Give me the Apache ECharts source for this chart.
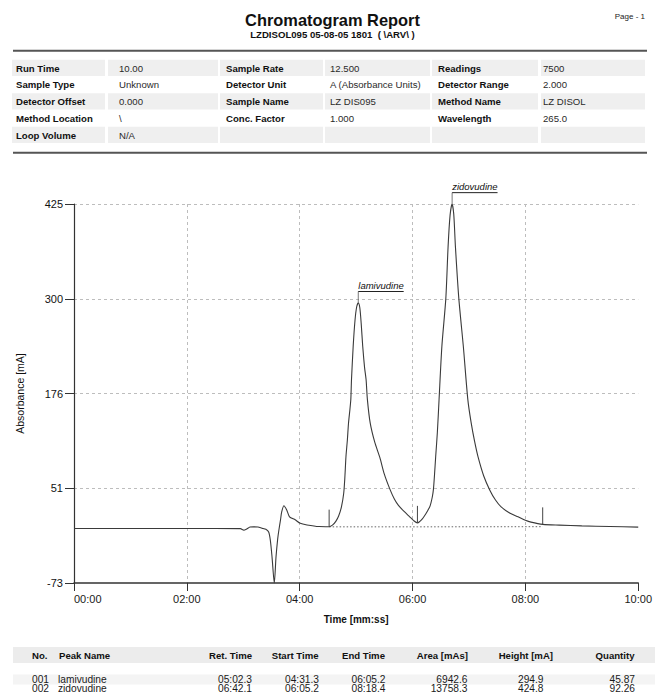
<!DOCTYPE html>
<html><head><meta charset="utf-8">
<script src="https://cdn.jsdelivr.net/npm/echarts@6/dist/echarts.min.js"></script>
<style>html,body{margin:0;padding:0;background:#fff}#c{width:655px;height:694px}</style>
</head><body><div id="c"></div>
<script>
// ---------- report texts ----------
const reportTitle = 'Chromatogram Report';
const reportSubtitle = 'LZDISOL095 05-08-05 1801  ( \\ARV\\ )';
const pageLabel = 'Page - 1';

// ---------- info table (6 columns, 5 rows) ----------
const infoLabels1 = ['Run Time', 'Sample Type', 'Detector Offset', 'Method Location', 'Loop Volume'];
const infoValues1 = ['10.00', 'Unknown', '0.000', '\\', 'N/A'];
const infoLabels2 = ['Sample Rate', 'Detector Unit', 'Sample Name', 'Conc. Factor', ''];
const infoValues2 = ['12.500', 'A (Absorbance Units)', 'LZ DIS095', '1.000', ''];
const infoLabels3 = ['Readings', 'Detector Range', 'Method Name', 'Wavelength', ''];
const infoValues3 = ['7500', '2.000', 'LZ DISOL', '265.0', ''];

// ---------- chromatogram signal (time in minutes, absorbance in mA) ----------
const timeMin = [
  0.00, 0.50, 1.00, 1.50, 2.00, 2.50, 2.95, 3.01, 3.06, 3.12, 3.18, 3.26, 3.33, 3.40,
  3.45, 3.48, 3.51, 3.55, 3.58, 3.61, 3.63, 3.66, 3.68, 3.72, 3.77, 3.82, 3.92, 4.01,
  4.13, 4.34, 4.52, 4.58, 4.64, 4.69, 4.74, 4.78, 4.80, 4.82, 4.845, 4.865, 4.89, 4.906,
  4.918, 4.948, 4.98, 5.01, 5.038, 5.065, 5.09, 5.117, 5.15, 5.177, 5.20, 5.25, 5.33,
  5.42, 5.50, 5.60, 5.68, 5.75, 5.85, 5.95, 6.02, 6.087, 6.13, 6.17, 6.21, 6.26, 6.31,
  6.35, 6.37, 6.39, 6.41, 6.44, 6.47, 6.52, 6.59, 6.63, 6.665, 6.70, 6.73, 6.76, 6.82,
  6.90, 6.98, 7.04, 7.10, 7.16, 7.26, 7.37, 7.47, 7.57, 7.72, 7.87, 8.00, 8.10, 8.31,
  8.60, 9.00, 9.50, 10.00
];
const absorbance = [
  -1.4, -1.4, -1.4, -1.4, -1.4, -1.4, -1.6, -3.5, -2.0, 0.5, 0.8, 0.6, -1.0, -2.5,
  -6, -17, -39, -73, -39, -15, -4, 10, 20, 28.6, 23, 14, 10, 5.4,
  3.3, 1.2, 1.0, 3, 8, 15, 27, 45, 65, 93, 115, 137, 155, 168,
  194, 238, 272, 290, 295, 289, 268, 238, 210, 194, 168, 137, 112,
  92, 70, 50, 37, 29, 21, 14, 9, 6, 8, 11, 15, 21, 28,
  40, 50, 70, 93, 125, 168, 238, 301, 369, 410, 425, 412, 369, 301,
  238, 168, 137, 113, 93, 68, 49, 36, 27, 19, 14, 9.5, 7, 4,
  3, 2, 1.2, 0.4
];

// dotted integration baseline
const baselineTime = [4.522, 6.087, 8.307];
const baselineValue = [0.8, 0.8, 1.0];

// ---------- axis ticks ----------
const xTickValues = [0, 2, 4, 6, 8, 10];
const xTickLabels = ['00:00', '02:00', '04:00', '06:00', '08:00', '10:00'];
const yTickValues = [-73, 51.5, 176, 300.5, 425];
const yTickLabels = ['-73', '51', '176', '300', '425'];

// ---------- peak table ----------
const peakNo = ['001', '002'];
const peakName = ['lamivudine', 'zidovudine'];
const retTime = ['05:02.3', '06:42.1'];
const startTime = ['04:31.3', '06:05.2'];
const endTime = ['06:05.2', '08:18.4'];
const areaMAs = ['6942.6', '13758.3'];
const heightMA = ['294.9', '424.8'];
const quantity = ['45.87', '92.26'];
const peakHeaders = ['No.', 'Peak Name', 'Ret. Time', 'Start Time', 'End Time', 'Area [mAs]', 'Height [mA]', 'Quantity'];

// ---------- helpers ----------
const FONT = 'Liberation Sans';
function mmss(s) { const p = s.split(':'); return parseFloat(p[0]) + parseFloat(p[1]) / 60; }
function signalAt(t) {
  for (let i = 1; i < timeMin.length; i++) {
    if (timeMin[i] >= t) {
      const f = (t - timeMin[i - 1]) / (timeMin[i] - timeMin[i - 1]);
      return absorbance[i - 1] + f * (absorbance[i] - absorbance[i - 1]);
    }
  }
  return absorbance[absorbance.length - 1];
}
const mctx = document.createElement('canvas').getContext('2d');
function textWidth(t, font) { mctx.font = font; return mctx.measureText(t).width; }

const signalData = timeMin.map((t, i) => [t, absorbance[i]]);
const baselineData = baselineTime.map((t, i) => [t, baselineValue[i]]);
const peakData = retTime.map((r, i) => [mmss(r), parseFloat(heightMA[i])]);
const markerTimes = [mmss(startTime[0]), mmss(endTime[0]), mmss(endTime[1])];
const markerData = markerTimes.map(t => [t, signalAt(t)]);

// ---------- graphic: header, info table, peak table ----------
const g = [];
g.push({ type: 'text', x: 332.5, y: 19.5, style: { text: reportTitle, fontFamily: FONT, fontSize: 16.4, fontWeight: 'bold', fill: '#111', align: 'center', verticalAlign: 'middle' } });
g.push({ type: 'text', x: 332.5, y: 34, style: { text: reportSubtitle, fontFamily: FONT, fontSize: 9.6, fontWeight: 'bold', fill: '#111', align: 'center', verticalAlign: 'middle' } });
g.push({ type: 'text', x: 645, y: 16, style: { text: pageLabel, fontFamily: FONT, fontSize: 8, fill: '#222', align: 'right', verticalAlign: 'middle' } });
g.push({ type: 'rect', shape: { x: 13, y: 49.7, width: 634, height: 2 }, style: { fill: '#555' } });
g.push({ type: 'rect', shape: { x: 13, y: 151.7, width: 634, height: 2 }, style: { fill: '#555' } });

const colX = [[12, 105], [108, 218], [220, 323], [325, 430], [432, 538], [541, 645]];
const colTextX = [16, 119, 226, 330, 438, 543];
const rowTop = 59.8, rowH = 16.75;
const infoCols = [infoLabels1, infoValues1, infoLabels2, infoValues2, infoLabels3, infoValues3];
for (let r = 0; r < 5; r++) {
  const y0 = rowTop + r * rowH;
  if (r % 2 === 0) {
    colX.forEach(c => g.push({ type: 'rect', shape: { x: c[0], y: y0, width: c[1] - c[0], height: rowH - 0.5 }, style: { fill: '#efefef' } }));
  }
  infoCols.forEach((col, ci) => {
    const isLabel = ci % 2 === 0;
    g.push({ type: 'text', x: colTextX[ci], y: y0 + rowH / 2, style: { text: col[r], fontFamily: FONT, fontSize: 9.6, fontWeight: isLabel ? 'bold' : 'normal', fill: isLabel ? '#111' : '#2a2a2a', align: 'left', verticalAlign: 'middle' } });
  });
}

// peak table
g.push({ type: 'rect', shape: { x: 13, y: 647, width: 642, height: 16 }, style: { fill: '#ececec' } });
g.push({ type: 'rect', shape: { x: 13, y: 674.5, width: 642, height: 10 }, style: { fill: '#f4f4f4' } });
const hdrX = [32, 59, 252, 318.5, 385, 468, 553, 634.5];
const hdrAlign = ['left', 'left', 'right', 'right', 'right', 'right', 'right', 'right'];
const dataX = [32, 58, 252, 319, 385.5, 467.5, 543.5, 635];
peakHeaders.forEach((h, i) => g.push({ type: 'text', x: hdrX[i], y: 655, style: { text: h, fontFamily: FONT, fontSize: 9.6, fontWeight: 'bold', fill: '#111', align: hdrAlign[i], verticalAlign: 'middle' } }));
const peakCols = [peakNo, peakName, retTime, startTime, endTime, areaMAs, heightMA, quantity];
for (let r = 0; r < peakNo.length; r++) {
  peakCols.forEach((col, i) => g.push({ type: 'text', x: dataX[i], y: 679.3 + r * 9.6, style: { text: col[r], fontFamily: FONT, fontSize: 10.2, fill: '#1a1a1a', align: hdrAlign[i], verticalAlign: 'middle' } }));
}

// ---------- chart ----------
const chart = echarts.init(document.getElementById('c'), null, { renderer: 'svg' });
const annFont = 'italic 9.5px "' + FONT + '"';
chart.setOption({
  animation: false,
  backgroundColor: '#fff',
  textStyle: { fontFamily: FONT },
  grid: { left: 74, right: 15, top: 204, bottom: 111, containLabel: false },
  xAxis: {
    type: 'value', min: 0, max: 10, interval: 2,
    name: 'Time [mm:ss]', nameLocation: 'middle', nameGap: 31,
    nameTextStyle: { fontFamily: FONT, fontSize: 10, fontWeight: 'bold', color: '#111' },
    axisLine: { onZero: false, lineStyle: { color: '#333', width: 1.5 } },
    axisTick: { show: true, length: 8, lineStyle: { color: '#333', width: 1 } },
    axisLabel: {
      fontFamily: FONT, fontSize: 11, color: '#1a1a1a', margin: 10, alignMinLabel: 'left',
      formatter: v => { const i = xTickValues.indexOf(Math.round(v * 1000) / 1000); return i >= 0 ? xTickLabels[i] : ''; }
    },
    splitLine: { show: true, showMinLine: false, showMaxLine: false, lineStyle: { color: '#bdbdbd', type: [3, 3], width: 1 } }
  },
  yAxis: {
    type: 'value', min: -73, max: 425, interval: 124.5,
    name: 'Absorbance [mA]', nameLocation: 'middle', nameGap: 49, nameRotate: 90,
    nameTextStyle: { fontFamily: FONT, fontSize: 10.5, color: '#111' },
    axisLine: { show: true, onZero: false, lineStyle: { color: '#333', width: 1.2 } },
    axisTick: { show: true, length: 9, lineStyle: { color: '#333', width: 1 } },
    axisLabel: {
      fontFamily: FONT, fontSize: 11, color: '#111', margin: 11,
      formatter: v => { let best = 0; yTickValues.forEach((t, i) => { if (Math.abs(t - v) < Math.abs(yTickValues[best] - v)) best = i; }); return yTickLabels[best]; }
    },
    splitLine: { show: true, showMinLine: false, lineStyle: { color: '#bdbdbd', type: [3, 3], width: 1 } }
  },
  graphic: g,
  series: [
    {
      type: 'line', name: 'baseline', data: baselineData, showSymbol: false, silent: true,
      lineStyle: { color: '#666', width: 1, type: [1.5, 2] }, z: 2
    },
    {
      type: 'line', name: 'signal', data: signalData, showSymbol: false, smooth: 0.25,
      lineStyle: { color: '#3a3a3a', width: 1.1 }, z: 3
    },
    {
      type: 'custom', name: 'markers', data: markerData, clip: false, z: 4,
      renderItem: (params, api) => {
        const p = api.coord([api.value(0), api.value(1)]);
        return { type: 'line', shape: { x1: p[0], y1: p[1], x2: p[0], y2: p[1] - 17 }, style: { stroke: '#444', lineWidth: 1 } };
      }
    },
    {
      type: 'custom', name: 'peaks', data: peakData, clip: false, z: 5,
      renderItem: (params, api) => {
        const p = api.coord([api.value(0), api.value(1)]);
        const name = peakName[params.dataIndex];
        const w = textWidth(name, annFont);
        return {
          type: 'group', children: [
            { type: 'line', shape: { x1: p[0], y1: p[1], x2: p[0], y2: p[1] - 11.5 }, style: { stroke: '#555', lineWidth: 0.8 } },
            { type: 'line', shape: { x1: p[0], y1: p[1] - 11.5, x2: p[0] + w, y2: p[1] - 11.5 }, style: { stroke: '#222', lineWidth: 1 } },
            { type: 'text', x: p[0], y: p[1] - 12.5, style: { text: name, fontFamily: FONT, fontSize: 9.5, fontStyle: 'italic', fill: '#111', align: 'left', verticalAlign: 'bottom' } }
          ]
        };
      }
    }
  ]
});
</script>
</body></html>
